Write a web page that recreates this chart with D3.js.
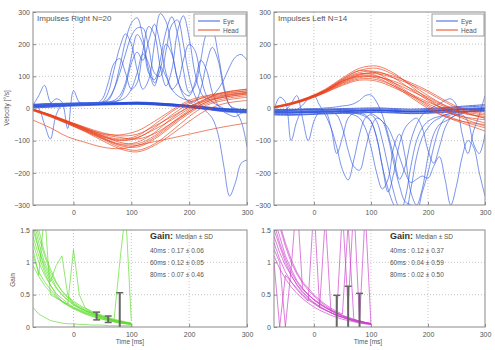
<!DOCTYPE html>
<html><head><meta charset="utf-8">
<script src="https://cdn.jsdelivr.net/npm/d3@7"></script>
<style>
body{margin:0;background:#fff}
svg{display:block}
text{font-family:"Liberation Sans",Arial,sans-serif}
</style>
</head><body>
<svg id="c" width="495" height="350"></svg>
<script>
// ---------- time grids ----------
const timeFine = [-70,-60,-50,-40,-30,-20,-10,0,10,20,30,40,50,60,70,80,90,100,110,120,130,140,150,160,170,180,190,200,210,220,230,240,250,260,270,280,290,300];
const timeCoarse = [-70,-40,-10,20,50,80,110,140,170,200,230,260,300];
const timeGain = [-70,-60,-50,-40,-30,-20,-10,0,10,20,30,40,50,60,70,80,90,100];
const velTicks = [-300,-200,-100,0,100,200,300];
const timeTicks = [0,100,200,300];
const gainTicks = [0,0.5,1,1.5];

// ---------- Impulses Right (N=20): head velocity (coarse grid) ----------
const headR1 = [-2,-20,-40,-60,-78,-82,-70,-40,-5,25,40,48,55];
const headR2 = [-4,-22,-44,-65,-88,-100,-92,-60,-20,15,38,50,60];
const headR3 = [-3,-21,-42,-63,-85,-105,-110,-85,-45,-5,25,40,50];
const headR4 = [-5,-23,-45,-68,-92,-115,-120,-95,-55,-15,15,30,40];
const headR5 = [-3,-20,-41,-62,-83,-95,-85,-50,-10,20,35,45,55];
const headR6 = [-6,-25,-47,-70,-95,-120,-130,-110,-70,-25,10,25,35];
const headR7 = [-2,-19,-39,-58,-75,-85,-80,-55,-25,5,25,35,45];
const headR8 = [-4,-22,-43,-66,-90,-110,-105,-75,-30,5,30,42,50];
const headR9 = [-7,-26,-48,-72,-100,-125,-135,-115,-80,-40,-5,15,25];
const headR10 = [-3,-21,-42,-64,-86,-98,-90,-65,-35,0,30,50,60];
const headR11 = [-5,-24,-46,-69,-93,-112,-115,-90,-50,-10,20,35,45];
const headR12 = [-2,-20,-40,-61,-80,-90,-95,-78,-45,-10,20,38,48];
const headR13 = [-36,-60,-88,-105,-120,-125,-115,-103,-92,-80,-68,-57,-45];
// eye velocity, quiet traces (coarse grid)
const eyeRq1 = [8,10,12,14,15,16,17,15,12,8,2,-3,-6];
const eyeRq2 = [4,6,9,11,12,13,14,12,8,3,-3,-8,-12];
const eyeRq3 = [12,14,15,17,18,18,19,17,14,10,5,0,-3];
const eyeRq4 = [6,8,10,12,13,15,16,14,11,6,0,-6,-10];
const eyeRq5 = [10,12,14,15,16,17,18,16,13,9,3,-2,-5];
const eyeRq6 = [2,4,7,9,11,12,13,11,8,4,-2,-8,-14];
const eyeRq7 = [9,11,13,15,16,18,20,18,14,9,4,-1,-4];
const eyeRq8 = [5,8,11,13,14,15,15,13,10,5,-1,-5,-9];
// eye velocity, saccadic traces (fine grid)
const eyeRs1 = [10,40,72,20,8,10,12,12,13,14,15,16,18,25,60,130,210,265,282,220,120,70,150,240,285,230,120,50,70,150,230,241,170,70,10,-5,-10,-12];
const eyeRs2 = [12,0,-50,-95,-20,10,12,14,14,15,15,16,20,50,120,190,232,200,120,60,90,200,295,270,180,90,40,20,10,5,0,-5,-8,-10,-12,-12,-10,-10];
const eyeRs3 = [10,12,14,16,30,20,-62,55,20,14,15,16,30,80,140,155,110,60,80,180,255,230,130,70,120,240,288,220,110,50,30,40,60,90,130,160,168,150];
const eyeRs4 = [8,9,10,12,13,14,15,15,16,16,17,18,20,30,60,110,170,225,250,250,190,110,100,180,260,275,200,100,40,10,-10,-30,-80,-180,-272,-230,-170,-160];
const eyeRs5 = [12,13,14,14,15,15,16,16,17,17,18,18,19,20,25,40,80,160,230,200,110,90,130,100,60,80,150,200,180,100,40,20,10,0,-5,-10,-40,-120];
const eyeRs6 = [6,7,8,10,12,12,13,14,14,15,15,16,17,18,20,30,70,140,175,150,210,262,200,110,60,40,30,25,20,60,140,190,150,60,10,0,-5,-8];
const eyeRs7 = [14,14,15,15,16,16,17,17,18,18,18,19,19,20,22,25,35,60,110,170,140,80,120,200,170,90,50,40,80,150,120,50,10,-10,-20,-25,-15,-10];

// ---------- Impulses Left (N=14) ----------
const headL1 = [3,14,30,52,80,100,100,80,55,30,5,-10,-20];
const headL2 = [5,16,33,57,90,118,125,105,75,40,10,-10,-30];
const headL3 = [2,13,29,50,75,92,90,70,45,20,0,-15,-25];
const headL4 = [4,15,32,55,88,112,115,95,60,25,-5,-25,-45];
const headL5 = [6,18,35,60,95,125,132,110,70,30,-5,-30,-55];
const headL6 = [3,14,31,53,82,104,108,95,75,50,20,-5,-15];
const headL7 = [4,16,34,58,92,118,110,80,45,10,-20,-40,-60];
const headL8 = [2,12,28,49,72,88,85,65,40,15,-10,-25,-35];
const headL9 = [5,17,34,56,86,108,102,75,40,5,-25,-45,-70];
const headL10 = [3,15,31,54,84,106,112,100,80,55,25,0,-10];
const headL11 = [4,15,32,55,85,100,95,70,35,0,-25,-40,-50];
const headL12 = [3,14,30,52,78,96,98,85,62,35,8,-12,-30];
const eyeLq1 = [-8,-10,-9,-8,-6,-5,-4,-6,-8,-6,-3,0,3];
const eyeLq2 = [-14,-15,-13,-12,-10,-8,-7,-9,-11,-10,-7,-4,-2];
const eyeLq3 = [-5,-6,-5,-4,-3,-2,-1,-3,-5,-3,0,4,8];
const eyeLq4 = [-18,-19,-17,-15,-13,-12,-10,-12,-14,-13,-10,-8,-6];
const eyeLq5 = [-10,-12,-11,-9,-8,-6,-5,-7,-9,-8,-5,-2,0];
const eyeLq6 = [-3,-4,-3,-2,0,1,2,0,-2,0,3,7,12];
const eyeLq7 = [-12,-13,-12,-10,-9,-8,-6,-8,-10,-9,-6,-3,-1];
const eyeLq8 = [-20,-21,-19,-17,-15,-14,-12,-14,-16,-15,-12,-10,-8];
const eyeLs1 = [-5,35,20,-100,-40,-5,-5,-5,-6,-6,-8,-10,-12,-15,-20,-30,-60,-120,-200,-250,-220,-120,-80,-150,-260,-300,-250,-150,-80,-50,-40,-30,-20,-15,-10,-8,-5,-5];
const eyeLs2 = [-8,-8,-5,15,40,-30,-100,-40,-10,-10,-60,-140,-90,-30,-15,-15,-20,-40,-90,-180,-250,-300,-330,-280,-180,-100,-60,-40,-30,-25,-20,-15,-12,-10,-8,-5,-3,0];
const eyeLs3 = [-10,-10,-8,-6,-3,10,30,40,10,-20,-60,-120,-190,-222,-160,-80,-30,-20,-40,-100,-180,-260,-310,-320,-250,-150,-90,-60,-40,-30,-20,-15,-10,-10,-10,-8,-6,-5];
const eyeLs4 = [-12,-12,-10,-10,-10,-9,-8,-8,-8,-10,-12,-20,-60,-130,-180,-192,-130,-60,-30,-40,-90,-170,-240,-290,-300,-320,-260,-200,-120,-60,-30,-20,-15,-12,-10,-10,-8,-5];
const eyeLs5 = [-6,-6,-5,-5,-4,-4,-3,-3,-3,-2,-2,-3,-3,-4,-5,-8,-10,-15,-25,-40,-60,-100,-150,-200,-230,-220,-210,-217,-180,-150,-220,-300,-240,-150,-100,-120,-200,-272];
const eyeLs6 = [-4,-3,-3,-2,-2,-1,0,0,0,2,3,5,8,10,15,25,40,42,20,-20,-80,-150,-220,-180,-100,-50,-20,-5,5,15,25,30,10,-80,-140,-70,-20,40];
const eyeLs7 = [-15,-15,-14,-13,-12,-12,-11,-10,-10,-10,-10,-10,-11,-12,-14,-18,-25,-40,-90,-180,-260,-200,-110,-60,-40,-30,-60,-130,-170,-120,-60,-30,-20,-20,-40,-110,-140,-80];

// ---------- gain traces ----------
const gainR1 = [1.6,1.2,0.95,0.75,0.6,0.5,0.42,0.36,0.3,0.26,0.22,0.19,0.16,0.13,0.1,0.08,0.06,0.05];
const gainR2 = [1.3,1.0,0.8,0.65,0.52,0.44,0.37,0.31,0.27,0.23,0.2,0.17,0.14,0.12,0.1,0.08,0.07,0.06];
const gainR3 = [1.9,1.5,1.15,0.9,0.7,0.55,0.45,0.38,0.32,0.27,0.23,0.2,0.17,0.14,0.11,0.09,0.07,0.05];
const gainR4 = [1.1,0.85,0.7,0.58,0.48,0.4,0.34,0.29,0.25,0.21,0.18,0.15,0.12,0.1,0.08,0.06,0.05,0.04];
const gainR5 = [1.5,1.2,0.9,0.7,0.95,1.1,0.5,0.35,0.3,0.25,0.22,0.18,0.15,0.12,0.1,0.09,0.07,0.05];
const gainR6 = [1.4,1.1,0.85,0.65,0.5,0.4,0.35,1.2,0.5,0.3,0.24,0.2,0.16,0.13,0.1,0.08,0.06,0.04];
const gainR7 = [1.7,1.3,1.0,0.8,0.62,0.5,0.41,0.34,0.29,0.25,0.21,0.18,0.15,0.12,0.1,1.0,1.8,0.1];
const gainR8 = [1.2,0.8,1.8,0.5,0.45,0.4,0.35,0.3,0.26,0.22,0.19,0.16,0.13,0.11,0.09,0.07,0.06,0.05];
const gainR9 = [0.95,0.78,0.64,0.54,0.46,0.39,0.33,0.28,0.24,0.2,0.17,0.14,0.12,0.1,0.08,0.06,0.05,0.04];
const gainR10 = [1.8,1.4,1.1,0.85,0.68,0.56,0.47,0.4,0.34,0.29,0.25,0.21,0.18,0.15,0.12,0.1,0.08,0.06];
const gainR11 = [0.3,0.2,0.15,0.1,0.08,0.06,0.05,0.05,0.04,0.04,0.03,0.03,0.03,0.02,0.02,0.02,0.02,0.02];
const gainL1 = [1.6,1.3,1.05,0.85,0.7,0.58,0.5,0.43,0.37,0.31,0.26,0.22,0.18,0.15,0.12,0.09,0.07,0.05];
const gainL2 = [1.4,1.15,0.95,0.8,0.66,0.55,0.46,0.38,0.32,0.27,0.22,0.18,0.15,0.12,0.09,0.07,0.05,0.04];
const gainL3 = [1.9,1.55,1.25,1.0,0.82,0.68,0.57,0.48,0.4,0.33,0.27,0.22,0.18,0.14,0.11,0.08,0.06,0.05];
const gainL4 = [1.2,1.0,0.0,0.9,2.0,0.6,0.5,0.42,0.35,0.3,0.25,0.2,0.16,0.13,0.1,0.08,0.06,0.04];
const gainL5 = [1.5,1.25,1.0,0.8,0.65,0.53,0.44,0.37,0.31,0.26,0.22,0.18,1.8,0.3,1.9,0.1,0.07,0.05];
const gainL6 = [1.3,1.05,0.85,0.7,0.58,0.48,0.4,1.9,0.3,0.26,0.22,0.18,0.15,0.12,0.1,0.08,1.8,0.05];
const gainL7 = [1.0,0.0,0.8,0.7,0.6,0.5,0.42,0.36,0.3,1.7,0.22,0.18,0.15,0.12,0.1,0.08,0.06,0.05];
const gainL8 = [1.7,1.4,1.1,0.9,0.72,0.6,0.5,0.42,0.36,0.3,0.25,0.21,0.17,0.14,0.11,0.09,0.07,0.05];
const gainL9 = [1.1,0.9,0.75,0.62,0.52,0.44,0.37,0.31,0.26,0.22,0.18,0.15,0.12,0.1,0.08,0.06,0.05,0.04];
const gainL10 = [2.0,1.6,1.3,1.05,0.85,0.7,0.6,0.5,0.42,0.35,0.29,0.24,0.2,1.6,0.12,0.09,0.07,0.06];

// median ± SD at 40/60/80 ms
const gainTimes = [40,60,80];
const medianRight = [0.17,0.12,0.07];
const sdRight = [0.06,0.05,0.46];
const medianLeft = [0.12,0.04,0.02];
const sdLeft = [0.37,0.59,0.50];

// ---------- drawing ----------
const svg = d3.select("#c");
const axisColor = "#8a8a8a", textColor = "#555";
let clipId = 0;

function frame(g, x, y, xTicks, yTicks, yFmt) {
  const [x0,x1] = x.range(), [y1,y0] = y.range();
  // grid
  g.append("g").selectAll("line").data(xTicks.filter(t => x(t) > x0 + 1 && x(t) < x1 - 1)).join("line")
    .attr("x1", d => x(d)).attr("x2", d => x(d)).attr("y1", y0).attr("y2", y1)
    .attr("stroke", "#b8b8b8").attr("stroke-width", 0.8).attr("stroke-dasharray", "1,2");
  g.append("g").selectAll("line").data(yTicks.filter(t => y(t) > y0 + 1 && y(t) < y1 - 1)).join("line")
    .attr("y1", d => y(d)).attr("y2", d => y(d)).attr("x1", x0).attr("x2", x1)
    .attr("stroke", "#b8b8b8").attr("stroke-width", 0.8).attr("stroke-dasharray", "1,2");
}

function axes(g, x, y, xTicks, yTicks, yFmt) {
  const [x0,x1] = x.range(), [y1,y0] = y.range();
  g.append("rect").attr("x", x0).attr("y", y0).attr("width", x1 - x0).attr("height", y1 - y0)
    .attr("fill", "none").attr("stroke", axisColor).attr("stroke-width", 1);
  const ax = g.append("g").attr("transform", `translate(0,${y1})`)
    .call(d3.axisBottom(x).tickValues(xTicks).tickSize(-3).tickPadding(5));
  const ay = g.append("g").attr("transform", `translate(${x0},0)`)
    .call(d3.axisLeft(y).tickValues(yTicks).tickFormat(yFmt).tickSize(-3).tickPadding(3));
  [ax, ay].forEach(a => {
    a.select(".domain").remove();
    a.selectAll("line").attr("stroke", axisColor);
    a.selectAll("text").attr("fill", textColor).style("font-size", "7px").style("font-family", "Liberation Sans, Arial, sans-serif");
  });
}

function clip(g, x, y) {
  const id = "clip" + (clipId++);
  const [x0,x1] = x.range(), [y1,y0] = y.range();
  svg.append("clipPath").attr("id", id).append("rect")
    .attr("x", x0).attr("y", y0).attr("width", x1 - x0).attr("height", y1 - y0);
  return g.append("g").attr("clip-path", `url(#${id})`);
}

function drawTraces(g, x, y, times, traces, color, width, opacity, curve) {
  const line = d3.line().x((d, i) => x(times[i])).y(d => y(d)).curve(curve);
  g.append("g").selectAll("path").data(traces).join("path")
    .attr("d", line).attr("fill", "none").attr("stroke", color)
    .attr("stroke-width", width).attr("stroke-opacity", opacity);
}

function velocityPanel(opt) {
  const x = d3.scaleLinear([-70, 300], [opt.x0, opt.x1]);
  const y = d3.scaleLinear([-300, 300], [205, 12]);
  const g = svg.append("g");
  frame(g, x, y, timeTicks, velTicks);
  const c = clip(g, x, y);
  drawTraces(c, x, y, timeCoarse, opt.quiet, "#2448d8", 1, 0.75, d3.curveCatmullRom);
  drawTraces(c, x, y, timeFine, opt.sacc, "#3a5fe0", 0.9, 0.75, d3.curveCatmullRom);
  drawTraces(c, x, y, timeCoarse, opt.head, "#e8431e", 0.9, 0.75, d3.curveCatmullRom);
  axes(g, x, y, timeTicks, velTicks, d3.format("d"));
  g.append("text").attr("x", opt.x0 + 4).attr("y", 21).text(opt.title)
    .attr("fill", textColor).style("font-size", "8px");
  // legend
  const lx = opt.x1 - 53, ly = 14;
  g.append("rect").attr("x", lx).attr("y", ly).attr("width", 52).attr("height", 22)
    .attr("fill", "#fff").attr("stroke", "#888").attr("stroke-width", 0.8);
  [["Eye", "#3a5fe0", 7], ["Head", "#e8431e", 16]].forEach(([lab, col, dy]) => {
    g.append("line").attr("x1", lx + 4).attr("x2", lx + 26).attr("y1", ly + dy).attr("y2", ly + dy)
      .attr("stroke", col).attr("stroke-width", 1);
    g.append("text").attr("x", lx + 29).attr("y", ly + dy + 2.5).text(lab)
      .attr("fill", textColor).style("font-size", "6.5px");
  });
  return {x, y};
}

function gainPanel(opt) {
  const x = d3.scaleLinear([-70, 300], [opt.x0, opt.x1]);
  const y = d3.scaleLinear([0, 1.5], [327, 230]);
  const g = svg.append("g");
  frame(g, x, y, timeTicks, gainTicks);
  const c = clip(g, x, y);
  drawTraces(c, x, y, timeGain, opt.traces, opt.color, 0.9, 0.75, d3.curveLinear);
  // error bars
  opt.times.forEach((t, i) => {
    const lo = opt.median[i] - opt.sd[i], hi = opt.median[i] + opt.sd[i];
    c.append("line").attr("x1", x(t)).attr("x2", x(t)).attr("y1", y(lo)).attr("y2", y(hi))
      .attr("stroke", "#666").attr("stroke-width", 2);
    [lo, hi].forEach(v => c.append("line").attr("x1", x(t) - 3.5).attr("x2", x(t) + 3.5)
      .attr("y1", y(v)).attr("y2", y(v)).attr("stroke", "#666").attr("stroke-width", 1.5));
  });
  axes(g, x, y, timeTicks, gainTicks, d3.format("~g"));
  // gain text
  const tx = opt.tx;
  const t0 = g.append("text").attr("x", tx).attr("y", 239).attr("fill", "#333");
  t0.append("tspan").text("Gain").style("font-size", "9px").style("font-weight", "bold");
  t0.append("tspan").text(": ").style("font-size", "9px").style("font-weight", "bold");
  t0.append("tspan").text("Median ± SD").style("font-size", "6.5px").attr("fill", textColor).style("font-weight", "normal");
  opt.times.forEach((t, i) => {
    g.append("text").attr("x", tx).attr("y", 253 + i * 12)
      .text(`${t}ms : ${opt.median[i].toFixed(2)} ± ${opt.sd[i].toFixed(2)}`)
      .attr("fill", textColor).style("font-size", "6.5px");
  });
  g.append("text").attr("x", opt.labelX).attr("y", 344).attr("text-anchor", "middle")
    .text("Time [ms]").attr("fill", textColor).style("font-size", "6.5px");
  return {x, y};
}

velocityPanel({
  x0: 33, x1: 247, title: "Impulses Right N=20",
  quiet: [eyeRq1, eyeRq2, eyeRq3, eyeRq4, eyeRq5, eyeRq6, eyeRq7, eyeRq8],
  sacc: [eyeRs1, eyeRs2, eyeRs3, eyeRs4, eyeRs5, eyeRs6, eyeRs7],
  head: [headR1, headR2, headR3, headR4, headR5, headR6, headR7, headR8, headR9, headR10, headR11, headR12, headR13]
});
velocityPanel({
  x0: 274, x1: 485, title: "Impulses Left N=14",
  quiet: [eyeLq1, eyeLq2, eyeLq3, eyeLq4, eyeLq5, eyeLq6, eyeLq7, eyeLq8],
  sacc: [eyeLs1, eyeLs2, eyeLs3, eyeLs4, eyeLs5, eyeLs6, eyeLs7],
  head: [headL1, headL2, headL3, headL4, headL5, headL6, headL7, headL8, headL9, headL10, headL11, headL12]
});
gainPanel({
  x0: 33, x1: 247, color: "#5ddc2a", tx: 150, labelX: 130,
  traces: [gainR1, gainR2, gainR3, gainR4, gainR5, gainR6, gainR7, gainR8, gainR9, gainR10, gainR11],
  times: gainTimes, median: medianRight, sd: sdRight
});
gainPanel({
  x0: 274, x1: 485, color: "#cc3fcc", tx: 390, labelX: 368,
  traces: [gainL1, gainL2, gainL3, gainL4, gainL5, gainL6, gainL7, gainL8, gainL9, gainL10],
  times: gainTimes, median: medianLeft, sd: sdLeft
});

// axis titles
svg.append("text").attr("transform", "translate(9,108) rotate(-90)").attr("text-anchor", "middle")
  .text("Velocity [°/s]").attr("fill", textColor).style("font-size", "6.5px");
svg.append("text").attr("transform", "translate(15,280) rotate(-90)").attr("text-anchor", "middle")
  .text("Gain").attr("fill", textColor).style("font-size", "6.5px");
</script>
</body></html>
